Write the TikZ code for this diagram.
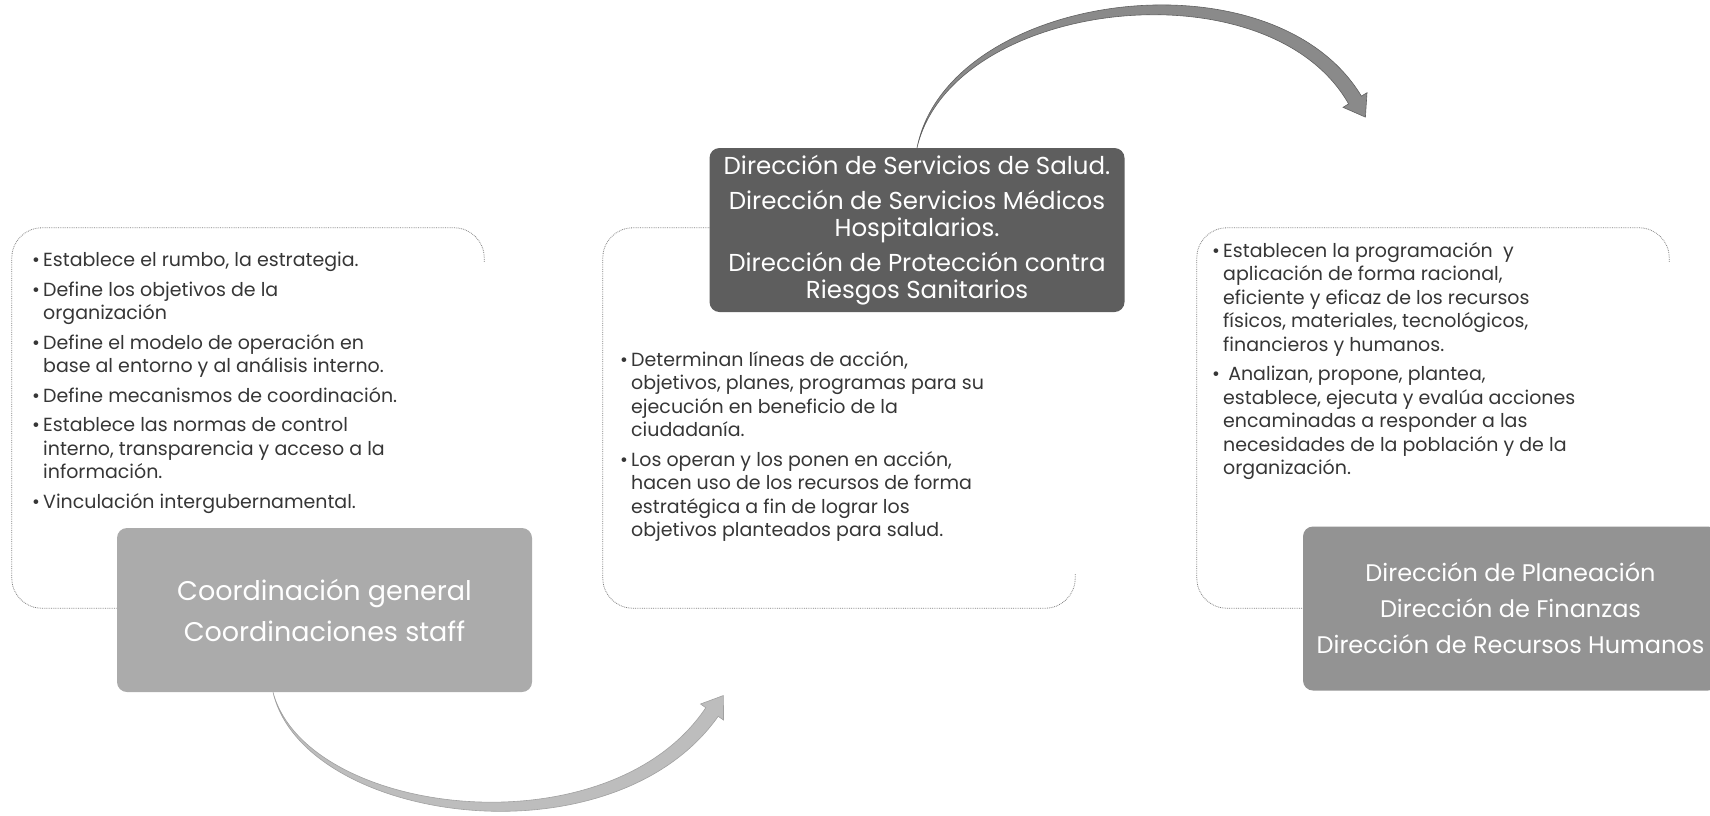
\documentclass[tikz,border=0pt]{standalone}
\usepackage{fontspec}
\setmainfont{Poppins}
\usetikzlibrary{arrows.meta}
\definecolor{bodytxt}{HTML}{363636}
\definecolor{wline}{HTML}{808080}
\definecolor{gonecol}{HTML}{ABABAB}
\definecolor{gtwocol}{HTML}{5E5E5E}
\definecolor{gthreecol}{HTML}{939393}
\definecolor{arrowtop}{HTML}{8A8A8A}
\definecolor{arrowbot}{HTML}{BDBDBD}
\newcommand{\bul}{\makebox[11pt][l]{•}}
\newcommand{\ind}{\hspace*{11pt}}
\begin{document}
\begin{tikzpicture}[x=1pt,y=-1pt,
  wbox/.style={rectangle, rounded corners=30pt, fill=white, minimum width=472pt, minimum height=380pt, inner sep=0pt},
  wborder/.style={draw=wline, line width=0.8pt, densely dotted, rounded corners=30pt},
  gbox/.style={rectangle, rounded corners=10pt, minimum width=415pt, minimum height=164pt, inner sep=0pt, text=white, align=center},
  bodytext/.style={anchor=north west, inner sep=0pt, align=left, text=bodytxt, font=\fontsize{19pt}{23.5pt}\selectfont},
  arrowshape/.style={line width=0.6pt}
]
\useasboundingbox (0,0) rectangle (1710,815);

% white boxes
\node[wbox] (w1) at (248,418) {};
\node[wbox] (w2) at (839,418) {};
\node[wbox] (w3) at (1433,418) {};
\foreach \w in {w1,w2,w3}{
  \draw[wborder] ([yshift=-34pt]\w.north east) -- (\w.north east) -- (\w.north west) -- (\w.south west) -- (\w.south east) -- ([yshift=34pt]\w.south east);
}

% body texts
\node[bodytext] (t1) at (32,252) {%
\bul Establece el rumbo, la estrategia.\\[6pt]
\bul Define los objetivos de la\\
\ind organización\\[6pt]
\bul Define el modelo de operación en\\
\ind base al entorno y al análisis interno.\\[6pt]
\bul Define mecanismos de coordinación.\\[6pt]
\bul Establece las normas de control\\
\ind interno, transparencia y acceso a la\\
\ind información.\\[6pt]
\bul Vinculación intergubernamental.};

\node[bodytext] (t2) at (620,351) {%
\bul Determinan líneas de acción,\\
\ind objetivos, planes, programas para su\\
\ind ejecución en beneficio de la\\
\ind ciudadanía.\\[6pt]
\bul Los operan y los ponen en acción,\\
\ind hacen uso de los recursos de forma\\
\ind estratégica a fin de lograr los\\
\ind objetivos planteados para salud.};

\node[bodytext] (t3) at (1212,242) {%
\bul Establecen la programación\ \ y\\
\ind aplicación de forma racional,\\
\ind eficiente y eficaz de los recursos\\
\ind físicos, materiales, tecnológicos,\\
\ind financieros y humanos.\\[6pt]
\bul\ Analizan, propone, plantea,\\
\ind establece, ejecuta y evalúa acciones\\
\ind encaminadas a responder a las\\
\ind necesidades de la población y de la\\
\ind organización.};

% gray boxes
\node[gbox, fill=gonecol, font=\fontsize{27pt}{41pt}\selectfont] (g1) at (324.5,610) {Coordinación general\\Coordinaciones staff};
\node[gbox, fill=gtwocol, font=\fontsize{24.5pt}{27pt}\selectfont] (g2) at (917,230) {Dirección de Servicios de Salud.\\[8pt]Dirección de Servicios Médicos\\Hospitalarios.\\[8pt]Dirección de Protección contra\\Riesgos Sanitarios};
\node[gbox, fill=gthreecol, font=\fontsize{24pt}{36pt}\selectfont] (g3) at (1510.5,608.5) {Dirección de Planeación\\Dirección de Finanzas\\Dirección de Recursos Humanos};

% arrows
\coordinate (a1s) at ([xshift=-51.5pt]g1.south);
\coordinate (a1t) at (723.4,695.5);
\fill[arrowbot, draw=arrowbot!85!black, arrowshape] (a1s) .. controls (303.5,823.2) and (611.8,866.8) .. (718.2,716.3) -- (723.5,720.0) -- (a1t) -- (700.5,704.0) -- (705.8,707.7) .. controls (608.2,853.2) and (306.5,816.8) .. (a1s) -- cycle;

\coordinate (a2s) at (g2.north);
\coordinate (a2t) at (1365.4,117.1);
\fill[arrowtop, draw=arrowtop!70!black, arrowshape] (a2s) .. controls (948.1,-8.5) and (1271.9,-52.3) .. (1361.4,96.1) -- (1367.0,92.7) -- (a2t) -- (1343.0,107.3) -- (1348.6,103.9) .. controls (1268.1,-37.7) and (951.9,-1.5) .. (a2s) -- cycle;
\end{tikzpicture}
\end{document}
